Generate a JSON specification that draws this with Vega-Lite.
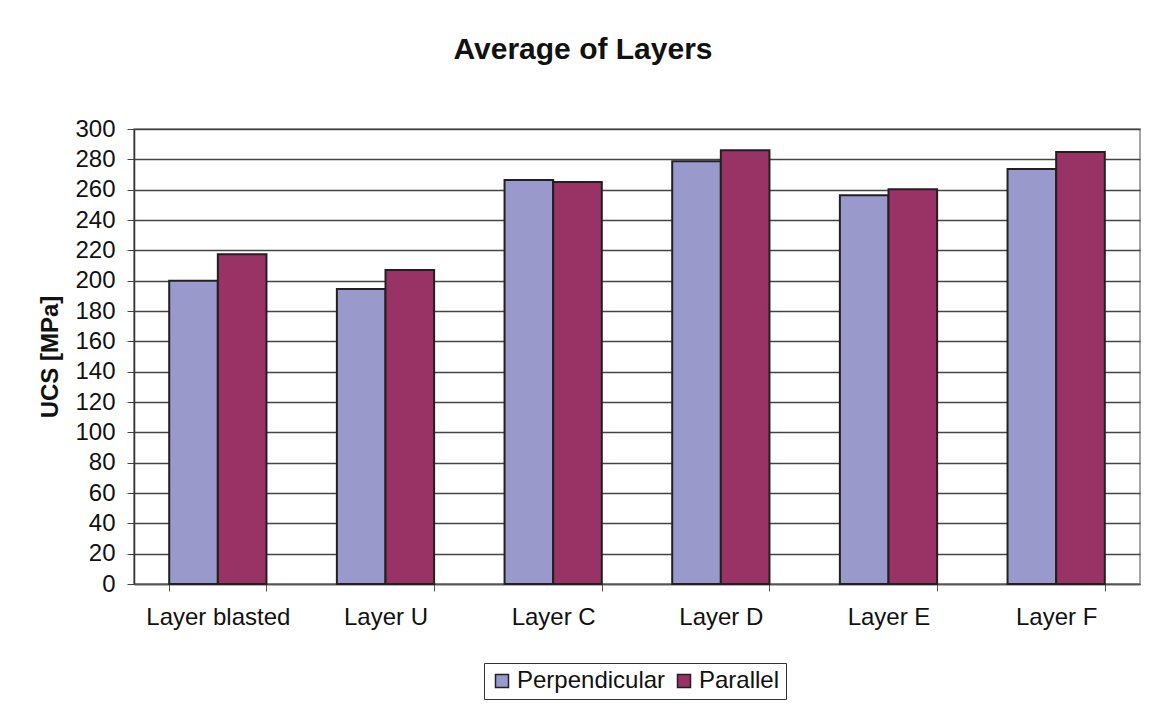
{
  "$schema": "https://vega.github.io/schema/vega-lite/v6.json",
  "width": 1006,
  "height": 455,
  "autosize": {"type": "none"},
  "padding": {"left": 134, "top": 129, "right": 13, "bottom": 127},
  "background": "white",
  "title": {
    "text": "Average of Layers",
    "fontSize": 30,
    "fontWeight": "bold",
    "font": "Liberation Sans",
    "color": "#111",
    "offset": 52,
    "dx": -54,
    "anchor": "middle"
  },
  "data": {
    "values": [
      {"layer": "Layer blasted", "orientation": "Perpendicular", "ucs": 200},
      {"layer": "Layer blasted", "orientation": "Parallel", "ucs": 217.5},
      {"layer": "Layer U", "orientation": "Perpendicular", "ucs": 194.5},
      {"layer": "Layer U", "orientation": "Parallel", "ucs": 207},
      {"layer": "Layer C", "orientation": "Perpendicular", "ucs": 266.3},
      {"layer": "Layer C", "orientation": "Parallel", "ucs": 265},
      {"layer": "Layer D", "orientation": "Perpendicular", "ucs": 278.8},
      {"layer": "Layer D", "orientation": "Parallel", "ucs": 286},
      {"layer": "Layer E", "orientation": "Perpendicular", "ucs": 256.4},
      {"layer": "Layer E", "orientation": "Parallel", "ucs": 260.2},
      {"layer": "Layer F", "orientation": "Perpendicular", "ucs": 273.6},
      {"layer": "Layer F", "orientation": "Parallel", "ucs": 284.8}
    ]
  },
  "mark": {"type": "bar", "stroke": "#231f20", "strokeWidth": 2},
  "encoding": {
    "x": {
      "field": "layer",
      "type": "nominal",
      "sort": null,
      "scale": {"paddingInner": 0.42, "paddingOuter": 0.21},
      "axis": {
        "title": null,
        "labelAngle": 0,
        "labelFontSize": 24,
        "labelPadding": 14,
        "tickBand": "extent",
        "tickSize": 7,
        "tickColor": "#555",
        "domainColor": "#555",
        "domainWidth": 1.5,
        "grid": false
      }
    },
    "xOffset": {"field": "orientation", "type": "nominal", "sort": ["Perpendicular", "Parallel"]},
    "y": {
      "field": "ucs",
      "type": "quantitative",
      "scale": {"domain": [0, 300], "nice": false},
      "axis": {
        "title": "UCS [MPa]",
        "titleFontSize": 24,
        "titleFontWeight": "bold",
        "titlePadding": 12,
        "titleColor": "#111",
        "values": [0, 20, 40, 60, 80, 100, 120, 140, 160, 180, 200, 220, 240, 260, 280, 300],
        "labelFontSize": 24,
        "labelPadding": 12,
        "tickSize": 7,
        "tickColor": "#444",
        "domainColor": "#333",
        "domainWidth": 1.5,
        "grid": true,
        "gridColor": "#444",
        "gridWidth": 1.3
      }
    },
    "color": {
      "field": "orientation",
      "type": "nominal",
      "sort": ["Perpendicular", "Parallel"],
      "scale": {"domain": ["Perpendicular", "Parallel"], "range": ["#9999cc", "#993366"]},
      "legend": {
        "title": null,
        "orient": "none",
        "legendX": 350,
        "legendY": 534,
        "direction": "horizontal",
        "symbolType": "square",
        "symbolSize": 169,
        "symbolStrokeColor": "#231f20",
        "symbolStrokeWidth": 1.5,
        "symbolOpacity": 1,
        "labelFontSize": 24,
        "labelColor": "#111",
        "labelOffset": 3,
        "columnPadding": 6,
        "strokeColor": "#333",
        "padding": 6,
        "fillColor": "white"
      }
    }
  },
  "config": {
    "font": "Liberation Sans",
    "axis": {"labelColor": "#111", "labelFont": "Liberation Sans", "titleFont": "Liberation Sans"},
    "legend": {"labelFont": "Liberation Sans"},
    "view": {"stroke": "#888", "strokeWidth": 1.5}
  }
}
